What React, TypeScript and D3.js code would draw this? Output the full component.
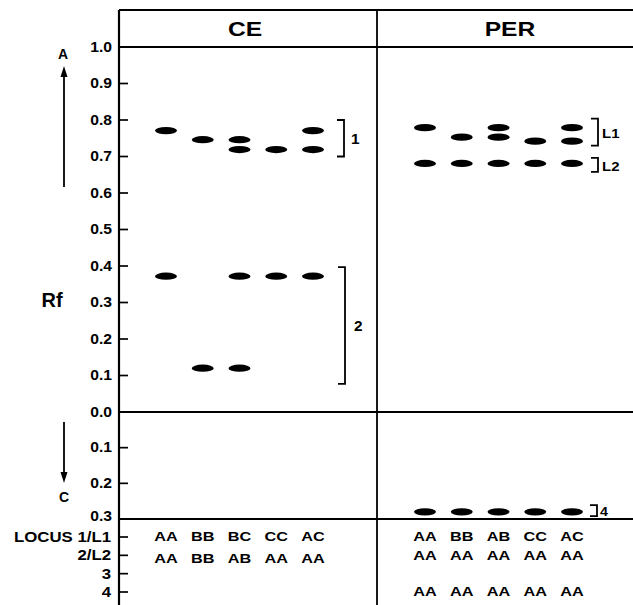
import React from "react";
import * as d3 from "d3";

// ---- data ----
const panels = ["CE", "PER"];
const upperTicks = [1.0, 0.9, 0.8, 0.7, 0.6, 0.5, 0.4, 0.3, 0.2, 0.1, 0.0];
const lowerTicks = [0.1, 0.2, 0.3];
const locusLabels = ["LOCUS 1/L1", "2/L2", "3", "4"];

// CE bands (Rf toward anode), per lane
const ceLocus1Rf = [[0.771], [0.746], [0.746, 0.719], [0.719], [0.771, 0.719]];
const ceLocus2Rf = [[0.372], [0.12], [0.372, 0.12], [0.372], [0.372]];
// PER bands
const perL1Rf = [[0.779], [0.753], [0.779, 0.753], [0.742], [0.779, 0.742]];
const perL2Rf = [[0.681], [0.681], [0.681], [0.681], [0.681]];
// PER locus 4 (Rf toward cathode)
const perLocus4Rc = [[0.28], [0.28], [0.28], [0.28], [0.28]];

// genotype rows
const ceRow1 = ["AA", "BB", "BC", "CC", "AC"];
const ceRow2 = ["AA", "BB", "AB", "AA", "AA"];
const perRow1 = ["AA", "BB", "AB", "CC", "AC"];
const perRow2 = ["AA", "AA", "AA", "AA", "AA"];
const perRow4 = ["AA", "AA", "AA", "AA", "AA"];

// brackets: [from, to, label]
const ceBracketsA: [number, number, string][] = [[0.8, 0.7, "1"], [0.397, 0.077, "2"]];
const perBracketsA: [number, number, string][] = [[0.804, 0.73, "L1"], [0.696, 0.658, "L2"]];
const perBracketsC: [number, number, string][] = [[0.261, 0.292, "4"]];

const FONT = "'Liberation Sans', Arial, Helvetica, sans-serif";
const FW = 700;

function T({ x, y, sx = 1, anchor = "start", size = 14, weight = FW, children }: any) {
  return (
    <g transform={`translate(${x},${y}) scale(${sx},1)`}>
      <text x={0} y={0} textAnchor={anchor} dominantBaseline="central" fontSize={size} fontWeight={weight} fontFamily={FONT} fill="#000">{children}</text>
    </g>
  );
}

export default function App() {
  const W = 633, H = 605;
  const axisX = 119, midX = 377, rightX = 633;
  const topY = 10;
  const yA = d3.scaleLinear().domain([0, 1]).range([412, 47]);
  const yC = d3.scaleLinear().domain([0, 0.3]).range([412, 519]);
  const yLocus = d3.scalePoint<string>().domain(locusLabels).range([537, 592]);
  const lanes = [0, 1, 2, 3, 4];
  const xCE = d3.scalePoint<number>().domain(lanes).range([166, 313]);
  const xPER = d3.scalePoint<number>().domain(lanes).range([425, 572]);

  const band = (x: number, y: number, key: string) => (
    <ellipse key={key} cx={x} cy={y} rx={11} ry={3.6} fill="#000" />
  );

  const bands: React.ReactNode[] = [];
  const addBands = (arr: number[][], xs: any, ys: any, p: string) =>
    arr.forEach((vals, i) => vals.forEach((v, j) => bands.push(band(xs(i), ys(v), `${p}-${i}-${j}`))));
  addBands(ceLocus1Rf, xCE, yA, "ce1");
  addBands(ceLocus2Rf, xCE, yA, "ce2");
  addBands(perL1Rf, xPER, yA, "pl1");
  addBands(perL2Rf, xPER, yA, "pl2");
  addBands(perLocus4Rc, xPER, yC, "pl4");

  const bracket = (xv: number, y1: number, y2: number, label: string, key: string, labelDx: number, fs: number, sx: number) => (
    <g key={key}>
      <path d={`M${xv - 7},${y1} H${xv} V${y2} H${xv - 7}`} fill="none" stroke="#000" strokeWidth={1.8} />
      <T x={xv + labelDx} y={(y1 + y2) / 2 + 1} size={fs} sx={sx}>{label}</T>
    </g>
  );

  const genoRow = (labels: string[], xs: any, y: number, key: string) =>
    labels.map((t, i) => (
      <T key={`${key}-${i}`} x={xs(i)} y={y} anchor="middle" size={13} sx={1.25}>{t}</T>
    ));

  const lw = 1.8;
  return (
    <svg width={W} height={H} style={{ position: "absolute", left: 0, top: 0, background: "#fff" }}>
      <rect x={0} y={0} width={W} height={H} fill="#fff" />
      {/* frame */}
      <line x1={axisX} y1={topY} x2={rightX} y2={topY} stroke="#000" strokeWidth={lw} />
      <line x1={axisX} y1={yA(1)} x2={rightX} y2={yA(1)} stroke="#000" strokeWidth={lw} />
      <line x1={axisX} y1={yA(0)} x2={rightX} y2={yA(0)} stroke="#000" strokeWidth={lw} />
      <line x1={axisX} y1={yC(0.3)} x2={rightX} y2={yC(0.3)} stroke="#000" strokeWidth={lw} />
      <line x1={axisX} y1={topY} x2={axisX} y2={H} stroke="#000" strokeWidth={2.2} />
      <line x1={midX} y1={topY} x2={midX} y2={H} stroke="#000" strokeWidth={lw} />

      {/* panel headers */}
      {panels.map((p, i) => (
        <T key={p} x={i === 0 ? 245 : 510} y={29} anchor="middle" size={20.5} sx={1.2}>{p}</T>
      ))}

      {/* upper axis ticks */}
      {upperTicks.map((t) => (
        <g key={`u${t}`}>
          {t !== 1 && t !== 0 && <line x1={axisX} x2={axisX + 9} y1={yA(t)} y2={yA(t)} stroke="#000" strokeWidth={1.7} />}
          <T x={112} y={yA(t)} anchor="end" size={14} sx={1.12}>{d3.format(".1f")(t)}</T>
        </g>
      ))}
      {/* lower axis ticks */}
      {lowerTicks.map((t) => (
        <g key={`l${t}`}>
          {t !== 0.3 && <line x1={axisX} x2={axisX + 9} y1={yC(t)} y2={yC(t)} stroke="#000" strokeWidth={1.7} />}
          <T x={112} y={yC(t) - (t === 0.3 ? 3 : 0)} anchor="end" size={14} sx={1.12}>{d3.format(".1f")(t)}</T>
        </g>
      ))}
      {/* locus rows */}
      {locusLabels.map((l) => (
        <g key={l}>
          <line x1={axisX} x2={axisX + 9} y1={yLocus(l)!} y2={yLocus(l)!} stroke="#000" strokeWidth={1.7} />
          <T x={111} y={yLocus(l)!} anchor="end" size={14} sx={1.2}>{l}</T>
        </g>
      ))}

      {/* axis title and arrows */}
      <T x={52} y={300} anchor="middle" size={20} sx={1.0}>Rf</T>
      <T x={63} y={54} anchor="middle" size={14} sx={1.0}>A</T>
      <line x1={64} x2={64} y1={187} y2={74} stroke="#000" strokeWidth={1.8} />
      <path d="M64,66 L60.5,77 L67.5,77 Z" fill="#000" />
      <T x={64} y={497} anchor="middle" size={14} sx={1.0}>C</T>
      <line x1={64} x2={64} y1={422} y2={474} stroke="#000" strokeWidth={1.8} />
      <path d="M64,483 L60.5,472 L67.5,472 Z" fill="#000" />

      {/* bands */}
      {bands}

      {/* brackets */}
      {ceBracketsA.map(([a, b, l], i) => bracket(i === 0 ? 344 : 345, yA(a), yA(b), l, `cb${i}`, i === 0 ? 7 : 9, 14, 1.1))}
      {perBracketsA.map(([a, b, l], i) => bracket(598, yA(a), yA(b), l, `pb${i}`, 4, 13, 1.15))}
      {perBracketsC.map(([a, b, l], i) => bracket(597, yC(a), yC(b), l, `pc${i}`, 3, 13, 1.1))}

      {/* genotypes */}
      {genoRow(ceRow1, xCE, yLocus("LOCUS 1/L1")!, "cr1")}
      {genoRow(ceRow2, xCE, yLocus("2/L2")! + 3, "cr2")}
      {genoRow(perRow1, xPER, yLocus("LOCUS 1/L1")!, "pr1")}
      {genoRow(perRow2, xPER, yLocus("2/L2")!, "pr2")}
      {genoRow(perRow4, xPER, yLocus("4")!, "pr4")}
    </svg>
  );
}
